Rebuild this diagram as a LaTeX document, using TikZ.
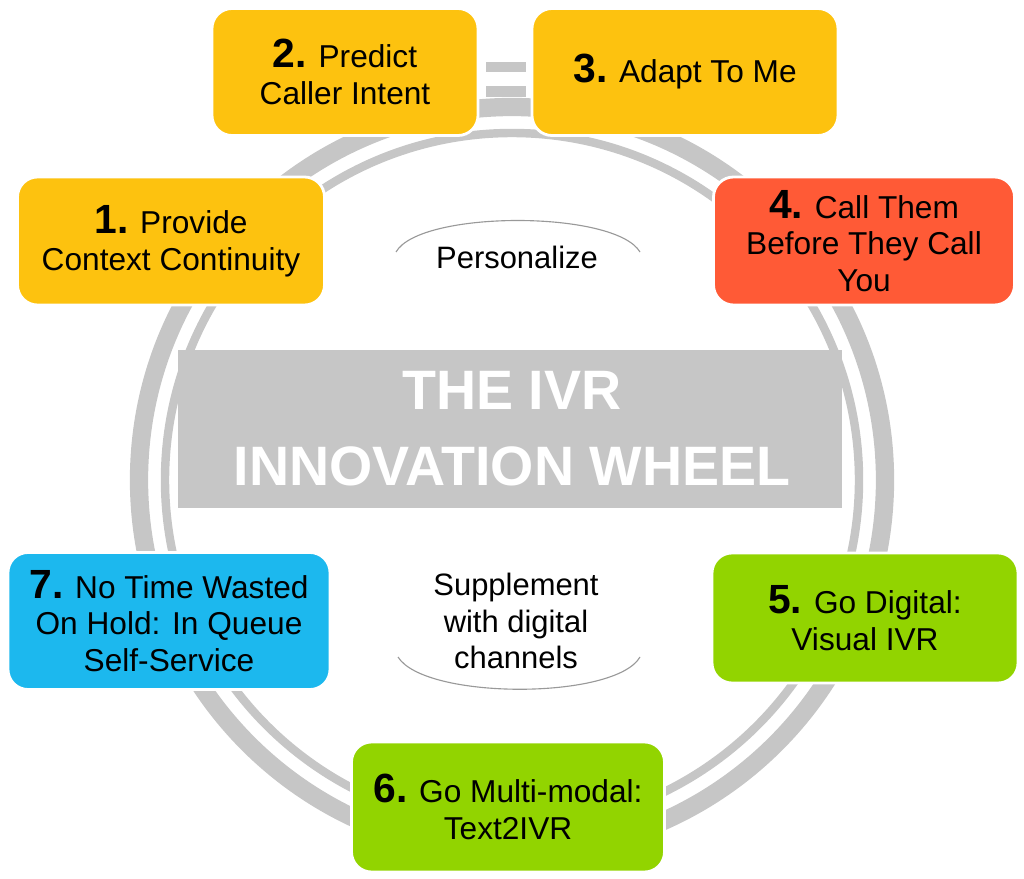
\documentclass[tikz,border=0pt]{standalone}
\usepackage{fontspec}
\setmainfont{Liberation Sans}
\usetikzlibrary{positioning}
\definecolor{wheelgrey}{HTML}{C6C6C6}
\definecolor{boxyellow}{HTML}{FDC20F}
\definecolor{boxred}{HTML}{FF5A36}
\definecolor{boxgreen}{HTML}{92D400}
\definecolor{boxblue}{HTML}{1CB8EE}
\newcommand{\stepnum}[1]{{\fontsize{29}{30}\selectfont\bfseries #1}}
\tikzset{
  stepbox/.style={draw=white,line width=2pt,rounded corners=0.5cm,align=center,
    font=\fontsize{22.5}{26}\selectfont,inner sep=0pt}
}
\begin{document}
\begin{tikzpicture}[x=0.025cm,y=-0.025cm]
  \useasboundingbox (0,0) rectangle (1024,879);

  \draw [line width=13pt,color=wheelgrey] (512,480) circle (373);
  \draw [line width=6pt,color=wheelgrey] (512,480) circle (347);

  \fill [wheelgrey] (178,350) rectangle (842,508);
  \node (title) [align=center,text=white,font=\fontsize{39.5}{54}\selectfont\bfseries] at (512,429) {THE IVR\\INNOVATION WHEEL};

  %\draw arcs above and below
  \draw [thick,color=gray!80] (396,252) .. controls (420,210) and (615,210) .. (640,252);
  \draw [thick,color=gray!80] (398,657) .. controls (425,700) and (615,700) .. (640,657);
  \node (pers) [font=\fontsize{22}{26}\selectfont] at (517,257) {Personalize};
  \node (supp) [align=center,font=\fontsize{22}{26}\selectfont] at (516,621) {Supplement\\with digital\\channels};

  \fill [wheelgrey] (486,62) rectangle (526,72);
  \fill [wheelgrey] (486,86) rectangle (526,97);

  \node (s1) [stepbox,fill=boxyellow,minimum width=307*0.025cm,minimum height=128*0.025cm] at (171,241) {\stepnum{1.} Provide\\Context Continuity};
  \node (s2) [stepbox,fill=boxyellow,minimum width=266*0.025cm,minimum height=127*0.025cm] at (345,72) {\stepnum{2.} Predict\\Caller Intent};
  \node (s3) [stepbox,fill=boxyellow,minimum width=306*0.025cm,minimum height=127*0.025cm] at (685,72) {\stepnum{3.} Adapt To Me};
  \node (s4) [stepbox,fill=boxred,minimum width=301*0.025cm,minimum height=128*0.025cm] at (864,241) {\stepnum{4.} Call Them\\Before They Call\\You};
  \node (s5) [stepbox,fill=boxgreen,minimum width=306*0.025cm,minimum height=130*0.025cm] at (865,618) {\stepnum{5.} Go Digital:\\Visual IVR};
  \node (s6) [stepbox,fill=boxgreen,minimum width=313*0.025cm,minimum height=130*0.025cm] at (508,807) {\stepnum{6.} Go Multi-modal:\\Text2IVR};
  \node (s7) [stepbox,fill=boxblue,minimum width=322*0.025cm,minimum height=137*0.025cm] at (169,621) {\stepnum{7.} No Time Wasted\\On Hold: In Queue\\Self-Service};
\end{tikzpicture}
\end{document}
